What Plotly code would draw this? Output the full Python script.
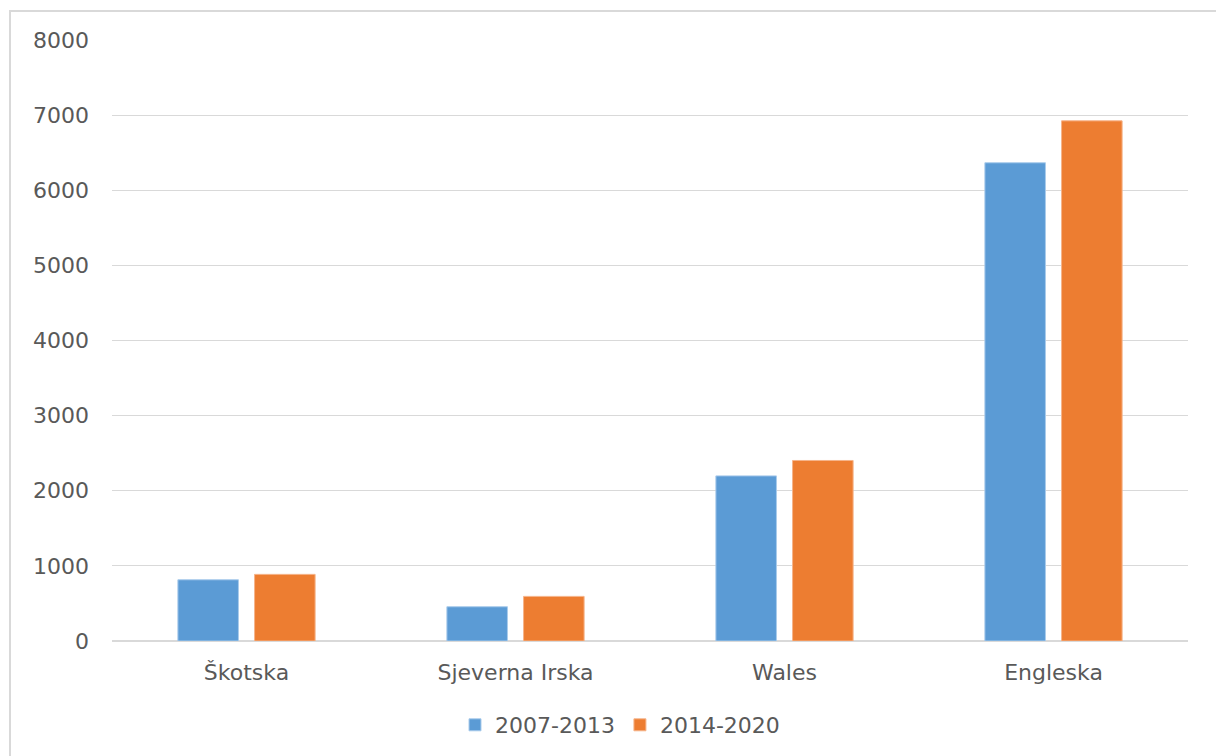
import plotly.graph_objects as go

# Regions and funding per programming period
regions = ["Škotska", "Sjeverna Irska", "Wales", "Engleska"]
period_a = "2007-2013"
period_b = "2014-2020"
values_a = [815, 456, 2198, 6366]
values_b = [887, 594, 2403, 6924]
y_ticks = [0, 1000, 2000, 3000, 4000, 5000, 6000, 7000, 8000]

blue = "#5b9bd5"
orange = "#ed7d31"
text_grey = "#595959"
grid_grey = "#d9d9d9"
font_family = "DejaVu Sans, sans-serif"

W, H = 1216, 756
ml, mr, mt, mb = 112, 28, 40, 115
pw, ph = W - ml - mr, H - mt - mb

fig = go.Figure()
fig.add_trace(go.Bar(
    x=regions, y=values_a, name=period_a,
    marker=dict(color=blue, line=dict(color="#a9cbeb", width=1)),
))
fig.add_trace(go.Bar(
    x=regions, y=values_b, name=period_b,
    marker=dict(color=orange, line=dict(color="#f6b48a", width=1)),
))

# Outer chart-area frame (its right and bottom edges run off the page)
def px_to_paper_x(px):
    return (px - ml) / pw

def px_to_paper_y(py):
    return (H - mb - py) / ph

fig.add_shape(
    type="rect", xref="paper", yref="paper", layer="below",
    x0=px_to_paper_x(10), x1=px_to_paper_x(W + 20),
    y0=px_to_paper_y(H + 20), y1=px_to_paper_y(11),
    line=dict(color="#d9d9d9", width=2), fillcolor="rgba(0,0,0,0)",
)

fig.update_layout(
    width=W, height=H,
    margin=dict(l=ml, r=mr, t=mt, b=mb, autoexpand=False),
    paper_bgcolor="white", plot_bgcolor="white",
    barmode="group", bargap=0.43, bargroupgap=0.21,
    font=dict(family=font_family, size=22, color=text_grey),
    showlegend=True,
    legend=dict(
        orientation="h", x=px_to_paper_x(620), xanchor="center",
        y=px_to_paper_y(725), yanchor="middle",
        font=dict(size=22, color=text_grey), itemwidth=30, traceorder="normal",
    ),
    xaxis=dict(
        showgrid=False, showline=False, ticks="", ticklabelstandoff=16,
        tickfont=dict(size=22, color=text_grey),
    ),
    yaxis=dict(
        range=[0, 8000], tickvals=y_ticks, ticktext=[str(v) for v in y_ticks],
        showgrid=True, gridcolor=grid_grey, gridwidth=1,
        zeroline=True, zerolinecolor=grid_grey, zerolinewidth=2,
        showline=False, ticks="", ticklabelstandoff=22,
        tickfont=dict(size=22, color=text_grey),
    ),
)

fig.write_html("out.html")
